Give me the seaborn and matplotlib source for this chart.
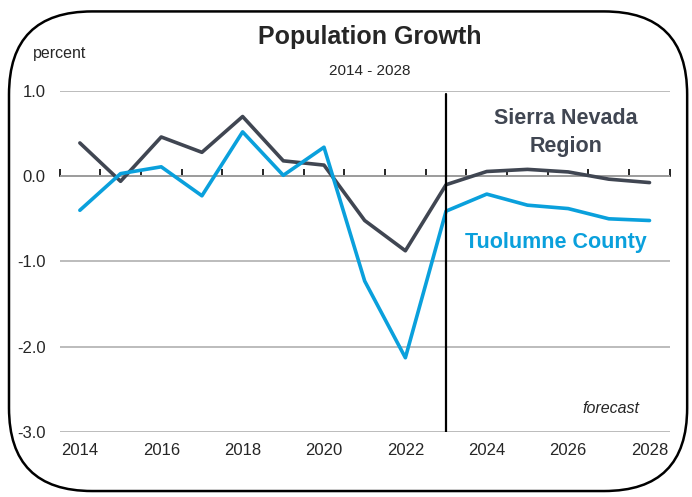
import matplotlib
matplotlib.use("Agg")
import matplotlib.pyplot as plt
import seaborn as sns
import pandas as pd
import numpy as np
from matplotlib.patches import FancyBboxPatch

years = list(range(2014, 2029))
sierra = [0.39, -0.06, 0.46, 0.28, 0.70, 0.18, 0.13, -0.52, -0.875, -0.10, 0.055, 0.08, 0.05, -0.035, -0.075]
tuolumne = [-0.40, 0.03, 0.11, -0.23, 0.52, 0.01, 0.34, -1.23, -2.13, -0.41, -0.21, -0.34, -0.38, -0.50, -0.52]
forecast_start = 2023
yticks = [1.0, 0.0, -1.0, -2.0, -3.0]
ytick_labels = ["1.0", "0.0", "-1.0", "-2.0", "-3.0"]
xticks = list(range(2014, 2029, 2))

sns.set_theme(style="white")
FONT = ["Liberation Sans Narrow", "Liberation Sans", "DejaVu Sans"]
plt.rcParams["font.family"] = FONT

DARK = "#404652"
BLUE = "#0AA0DC"

df = pd.DataFrame({
    "year": years * 2,
    "value": sierra + tuolumne,
    "series": ["Sierra Nevada Region"] * len(years) + ["Tuolumne County"] * len(years),
})

fig = plt.figure(figsize=(6.92, 4.97), dpi=100)
ax = fig.add_axes([0.086, 0.131, 0.882, 0.686])

# rounded frame
frame = FancyBboxPatch((0.013, 0.012), 0.98, 0.965, boxstyle="round,pad=0,rounding_size=0.12",
                       transform=fig.transFigure, fill=False, edgecolor="black", linewidth=1.8,
                       mutation_aspect=692 / 497, zorder=0)
fig.patches.append(frame)

sns.lineplot(data=df, x="year", y="value", hue="series",
             palette={"Sierra Nevada Region": DARK, "Tuolumne County": BLUE},
             linewidth=2.6, ax=ax, legend=False, zorder=3)

ax.set_xlim(2013.5, 2028.5)
ax.set_ylim(-3.0, 1.0)
ax.set_yticks(yticks)
ax.set_yticklabels(ytick_labels, fontsize=12)
ax.set_xticks(xticks)
ax.set_xticklabels([str(x) for x in xticks], fontsize=12)
ax.tick_params(axis="both", length=0, pad=8)
ax.tick_params(axis="y", pad=10)
for s in ax.spines.values():
    s.set_visible(False)
ax.set_xlabel("")
ax.set_ylabel("")
ax.grid(axis="y", color="#b0b0b0", linewidth=1.2)
ax.grid(axis="x", visible=False)

# zero line with category ticks
sec = ax.secondary_xaxis(0.75)
sec.set_xticks(np.arange(2013.5, 2029, 1.0))
sec.set_xticklabels([])
sec.tick_params(direction="out", length=5, width=1.2, color="black")
sec.spines["bottom"].set_color("black")
sec.spines["bottom"].set_linewidth(1.2)

ax.axvline(forecast_start, ymin=0, ymax=0.99, color="black", linewidth=1.6, zorder=4)

fig.text(0.535, 0.925, "Population Growth", ha="center", va="center", fontsize=18, fontweight="bold")
fig.text(0.535, 0.857, "2014 - 2028", ha="center", va="center", fontsize=11)
fig.text(0.048, 0.893, "percent", ha="left", va="center", fontsize=11.5)

ax.text(2025.95, 0.51, "Sierra Nevada\nRegion", ha="center", va="center", fontsize=15.5,
        fontweight="bold", color=DARK, linespacing=1.45)
ax.text(2025.7, -0.78, "Tuolumne County", ha="center", va="center", fontsize=15.5,
        fontweight="bold", color=BLUE)
ax.text(2027.75, -2.73, "forecast", ha="right", va="center", fontsize=11.5, style="italic")

fig.savefig("out.png", dpi=100)
